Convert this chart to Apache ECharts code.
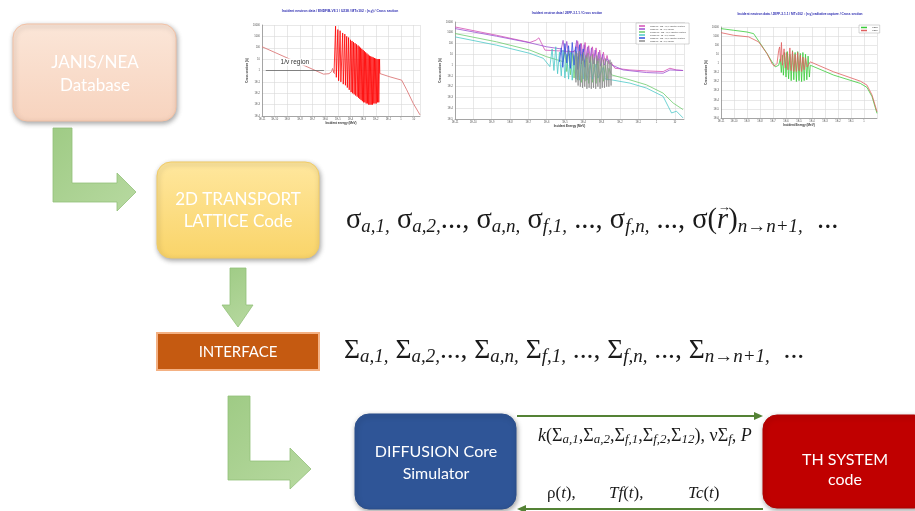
<!DOCTYPE html>
<html><head><meta charset="utf-8">
<script src="https://cdn.jsdelivr.net/npm/echarts@6/dist/echarts.min.js"></script>
<style>html,body{margin:0;padding:0;background:#fff}#c{width:915px;height:511px}</style>
</head><body><div id="c"></div>
<script>
// ---- Thumbnail 1: ENDF/B-VII.1 U238 (n,g) : x = log10(E/MeV), y = log10(sigma/b)
const t1Smooth1 = [[-11,2.09],[-6.13,-0.32],[-5.7,-0.28],[-5.5,-0.1],[-5.42,0.18],[-5.32,-0.2],[-5.2,-0.3]];
const t1Reson = [[-5.3,-0.2],[-5.18,3.9],[-5.12,-0.6],[-5.0,3.6],[-4.94,-0.9],[-4.82,3.5],[-4.76,-1.0],[-4.62,3.3],[-4.57,-1.2],[-4.45,3.2],[-4.4,-1.3],[-4.3,3.0],[-4.25,-1.5],[-4.15,2.9],[-4.1,-1.7],[-4.0,2.7],[-3.95,-1.9],[-3.88,2.6],[-3.83,-2.0],[-3.76,2.5],[-3.71,-2.1],[-3.64,2.4],[-3.59,-2.2],[-3.52,2.3],[-3.47,-2.3],[-3.4,2.2],[-3.36,-2.4],[-3.3,2.1],[-3.26,-2.5],[-3.2,2.0],[-3.16,-2.6],[-3.1,1.9],[-3.06,-2.7],[-3.0,1.8],[-2.96,-2.8],[-2.9,1.7],[-2.86,-2.8],[-2.8,1.6],[-2.76,-2.9],[-2.7,1.5],[-2.66,-2.9],[-2.6,1.4],[-2.56,-3.0],[-2.5,1.3],[-2.46,-3.0],[-2.4,1.25],[-2.36,-3.0],[-2.3,1.2],[-2.26,-3.0],[-2.2,1.15],[-2.16,-2.9],[-2.1,1.1],[-2.06,-2.9],[-2.0,1.05],[-1.96,-2.9],[-1.9,1.0],[-1.86,-2.8],[-1.8,1.0],[-1.76,-2.8],[-1.7,1.0],[-1.68,-0.3]];
const t1Smooth2 = [[-1.7,-0.26],[-0.87,-0.56],[0.05,-0.85],[0.45,-1.7],[0.97,-2.9],[1.5,-3.9]];
const t1Title = 'Incident neutron data / ENDF/B-VII.1 / U238 / MT=102 : (n,γ) / Cross section';

// ---- Thumbnail 2: JEFF-3.1.1 cross sections
const t2Names = ['U235 MT=102 : (n,γ) radiative capture','U235 MT=18 : (n,f) fission','Pu239 MT=102 : (n,γ) radiative capture','Pu239 MT=18 : (n,f) fission','U238 MT=102 : (n,γ) radiative capture','U238 MT=18 : (n,f) fission'];
const t2Magenta = [[-11,3.54],[-8.73,2.77],[-6.91,2.10],[-6.58,2.31],[-6.42,2.53],[-6.27,2.0],[-6.09,1.39],[-5.45,1.33],[-4.45,1.24],[-4.3,2.2],[-4.2,0.8],[-4.1,2.0],[-4.0,0.5],[-3.9,2.1],[-3.8,0.6],[-3.7,1.8],[-3.6,0.3],[-3.5,1.7],[-3.4,0.4],[-3.3,1.6],[-3.2,0.2],[-3.1,1.4],[-3.0,0.1],[-2.9,1.2],[-2.8,0.2],[-2.7,0.9],[-2.6,0.1],[-2.45,0.17],[-2.27,-0.29],[-1.45,-0.45],[-0.55,-0.54],[0.36,-0.6],[0.73,-0.29],[1.09,-0.45],[1.45,-0.5]];
const t2Purple = [[-11,3.39],[-8.73,2.68],[-6.91,2.07],[-6,1.7],[-5.2,1.5],[-5.1,2.3],[-5.0,1.0],[-4.9,2.2],[-4.8,0.9],[-4.45,1.39],[-4.35,2.3],[-4.25,0.6],[-4.15,2.0],[-4.05,0.4],[-3.95,1.9],[-3.85,0.3],[-3.75,1.7],[-3.65,0.2],[-3.55,1.6],[-3.45,0.1],[-3.35,1.4],[-3.25,0.0],[-3.15,1.2],[-3.05,-0.1],[-2.95,1.0],[-2.85,0.0],[-2.7,0.6],[-2.45,0.01],[-1.82,-0.45],[-0.55,-0.69],[0.36,-0.75],[0.73,-0.45],[1.45,-0.5]];
const t2Green = [[-11,2.93],[-8.73,2.16],[-6.91,1.39],[-6,0.78],[-5.09,0.32],[-5.0,1.2],[-4.9,-0.6],[-4.8,1.4],[-4.7,-0.9],[-4.6,1.1],[-4.5,-1.2],[-4.4,1.3],[-4.3,-1.4],[-4.2,0.9],[-4.1,-1.6],[-4.0,1.0],[-3.9,-1.5],[-3.8,0.7],[-3.7,-1.7],[-3.6,0.8],[-3.5,-1.6],[-3.4,0.5],[-3.3,-1.7],[-3.2,0.4],[-3.1,-1.6],[-3.0,0.2],[-2.9,-1.5],[-2.8,0.0],[-2.7,-1.4],[-2.6,-0.3],[-2.45,-0.91],[-1.45,-1.37],[-0.55,-1.83],[0.36,-2.6],[0.91,-3.52],[1.45,-4.13]];
const t2Cyan = [[-11,2.62],[-8.73,1.85],[-6.91,1.09],[-6.18,0.63],[-5.82,-0.14],[-5.7,1.5],[-5.6,-0.5],[-5.5,1.7],[-5.4,-0.8],[-5.3,1.2],[-5.2,-1.0],[-5.1,1.4],[-5.0,-1.2],[-4.9,1.0],[-4.8,-1.3],[-4.7,1.2],[-4.6,-1.4],[-4.5,0.9],[-4.4,-1.3],[-4.3,0.8],[-4.2,-1.4],[-4.1,0.6],[-4.0,-1.3],[-3.9,0.5],[-3.8,-1.4],[-3.6,0.3],[-3.5,-1.3],[-3.3,0.1],[-3.2,-1.2],[-2.9,-0.2],[-2.8,-1.3],[-2.45,-1.37],[-1.45,-1.67],[-0.55,-2.13],[0.36,-2.9],[0.82,-4.44],[1.09,-4.28],[1.45,-4.9]];
const t2Blue = [[-5.3,0.3],[-5.2,1.6],[-5.12,-0.2],[-5.0,2.0],[-4.9,0.2],[-4.8,1.8],[-4.7,-0.3],[-4.6,2.1],[-4.5,0.0],[-4.4,1.7],[-4.3,-0.4],[-4.2,1.9],[-4.1,0.1],[-4.0,1.5],[-3.9,-0.2]];
const t2Gray = [[-4.45,1.2],[-4.4,-1.6],[-4.34,1.1],[-4.28,-1.9],[-4.22,1.3],[-4.16,-2.0],[-4.1,1.0],[-4.04,-2.1],[-3.98,1.2],[-3.92,-2.0],[-3.86,0.9],[-3.8,-2.2],[-3.74,1.1],[-3.68,-2.1],[-3.62,0.8],[-3.56,-2.2],[-3.5,1.0],[-3.44,-2.1],[-3.38,0.7],[-3.32,-2.2],[-3.26,0.9],[-3.2,-2.0],[-3.14,0.6],[-3.08,-2.2],[-3.02,0.7],[-2.96,-2.1],[-2.9,0.5],[-2.84,-2.1],[-2.78,0.6],[-2.72,-2.0],[-2.66,0.4],[-2.6,-2.0],[-2.54,0.5],[-2.48,-1.9],[-2.45,0.3]];
const t2Title = 'Incident neutron data / JEFF-3.1.1 / Cross section';

// ---- Thumbnail 3: JEFF-3.1.1 radiative capture
const t3Names = ['U235','U238'];
const t3Green = [[-11,3.82],[-10.03,3.64],[-9,3.45],[-8.49,3.27],[-7.97,2.18],[-7.46,1.08],[-7.08,0.17],[-6.82,-0.38],[-6.56,-0.2],[-6.44,0.5],[-6.36,-1.0],[-6.28,0.9],[-6.2,-1.3],[-6.1,1.2],[-6.0,-1.5],[-5.9,1.3],[-5.8,-1.7],[-5.7,1.0],[-5.6,-1.9],[-5.5,1.4],[-5.4,-1.8],[-5.3,1.2],[-5.2,-2.0],[-5.1,1.3],[-5.0,-1.9],[-4.9,1.1],[-4.8,-2.0],[-4.7,1.2],[-4.6,-1.9],[-4.5,1.0],[-4.4,-1.8],[-4.3,0.8],[-4.2,-1.5],[-4.13,-0.2],[-2.33,-1.29],[-0.28,-2.2],[0.23,-2.64],[0.62,-3.66],[1,-5.49]];
const t3Red = [[-11,3.38],[-10.03,3.09],[-8.87,2.91],[-8.1,2.36],[-7.46,1.08],[-7.08,-0.01],[-6.9,-0.31],[-6.69,-0.01],[-6.56,1.45],[-6.49,1.81],[-6.42,0.2],[-6.35,2.3],[-6.28,-0.2],[-6.15,1.6],[-6.05,-0.5],[-5.95,1.2],[-5.85,-0.7],[-5.7,1.7],[-5.6,-0.8],[-5.5,1.3],[-5.4,-0.9],[-5.3,1.0],[-5.2,-0.9],[-5.1,1.2],[-5.0,-0.8],[-4.9,0.9],[-4.8,-0.9],[-4.7,0.7],[-4.6,-0.7],[-4.5,0.6],[-4.38,-0.4],[-4.13,0.17],[-2.33,-0.93],[-0.28,-1.95],[0.23,-2.39],[0.62,-3.48],[1,-5.31]];
const t3Title = 'Incident neutron data / JEFF-3.1.1 / MT=102 : (n,γ) radiative capture / Cross section';

// ---- Flow chart labels
const boxLabels = {
  janis: ['JANIS/NEA', 'Database'],
  transport: ['2D TRANSPORT', 'LATTICE Code'],
  iface: ['INTERFACE'],
  diffusion: ['DIFFUSION Core', 'Simulator'],
  th: ['TH SYSTEM', 'code']
};
// math expressions as [style, text] tokens (m = upright, s = italic subscript, i = italic)
const sigmaTokens = [['m','σ'],['s','a,1,'],['m',' σ'],['s','a,2,'],['m','..., σ'],['s','a,n,'],['m',' σ'],['s','f,1,'],['m',' ..., σ'],['s','f,n,'],['m',' ..., σ('],['i','r'],['m',')'],['s','n→n+1,'],['m','  ...']];
const bigSigmaTokens = [['m','Σ'],['s','a,1,'],['m',' Σ'],['s','a,2,'],['m','..., Σ'],['s','a,n,'],['m',' Σ'],['s','f,1,'],['m',' ..., Σ'],['s','f,n,'],['m',' ..., Σ'],['s','n→n+1,'],['m','  ...']];
const kTokens = [['i','k'],['m','(Σ'],['s','a,1'],['m',',Σ'],['s','a,2'],['m',',Σ'],['s','f,1'],['m',',Σ'],['s','f,2'],['m',',Σ'],['s','12'],['m','), νΣ'],['s','f'],['m',', '],['i','P']];
const feedbackTokens = [
  [['m','ρ('],['i','t'],['m','),']],
  [['i','Tf'],['m','('],['i','t'],['m','),']],
  [['i','Tc'],['m','('],['i','t'],['m',')']]
];

const chart = echarts.init(document.getElementById('c'), null, {renderer: 'canvas'});

const sans = 'Lato, "Open Sans", sans-serif';
const serifFam = 'Liberation Serif';

function expLabel(v) {
  if (v >= 0) return String(Math.round(Math.pow(10, v)));
  return '1E' + v;
}
function xAx(gi, min, max, name) {
  return {type: 'value', gridIndex: gi, min: min, max: max, interval: 1,
    name: name, nameLocation: 'middle', nameGap: 6, nameTextStyle: {fontSize: 3, color: '#333', fontWeight: 'bold'},
    axisLine: {show: true, onZero: false, lineStyle: {color: '#777', width: 0.6}},
    axisTick: {show: false},
    axisLabel: {fontSize: 2.6, color: '#555', margin: 2, formatter: expLabel, showMaxLabel: false},
    splitLine: {show: true, lineStyle: {color: '#d8d8d8', width: 0.6}}};
}
function yAx(gi, min, max, name) {
  return {type: 'value', gridIndex: gi, min: min, max: max, interval: 1,
    name: name, nameLocation: 'middle', nameGap: 9, nameRotate: 90, nameTextStyle: {fontSize: 3, color: '#333', fontWeight: 'bold'},
    axisLine: {show: true, onZero: false, lineStyle: {color: '#777', width: 0.6}},
    axisTick: {show: false},
    axisLabel: {fontSize: 2.6, color: '#555', margin: 2, formatter: expLabel},
    splitLine: {show: true, lineStyle: {color: '#d8d8d8', width: 0.6}}};
}
function line(name, gi, data, color, w) {
  return {name: name, type: 'line', xAxisIndex: gi, yAxisIndex: gi, data: data, showSymbol: false,
    symbol: 'none', lineStyle: {color: color, width: w || 0.8}, itemStyle: {color: color}, silent: true, z: 3};
}

// graphic helpers
function gtext(txt, x, y, size, fam, color, weight) {
  return {type: 'text', z: 10, style: {text: txt, x: x, y: y, fill: color || '#fff',
    fontSize: size, fontFamily: fam || sans, fontWeight: weight || 'normal', textAlign: 'center', textVerticalAlign: 'middle'}};
}
function box(x, y, w, h, r, fill, stroke, sw, shadow) {
  return {type: 'rect', z: 5, shape: {x: x, y: y, width: w, height: h, r: r},
    style: {fill: fill, stroke: stroke, lineWidth: sw,
      shadowBlur: shadow ? 5 : 0, shadowColor: 'rgba(0,0,0,0.35)', shadowOffsetX: shadow ? 1 : 0, shadowOffsetY: shadow ? 2 : 0}};
}
function grad(c1, c2) {
  return new echarts.graphic.LinearGradient(0, 0, 0, 1, [{offset: 0, color: c1}, {offset: 1, color: c2}]);
}
const arrowGreen = new echarts.graphic.LinearGradient(0, 0, 1, 1, [{offset: 0, color: '#9FCB85'}, {offset: 1, color: '#B7D9A0'}]);

function richMath(mSize, sSize, pad) {
  return {
    m: {fill: '#1a1a1a', fontSize: mSize, fontFamily: serifFam},
    s: {fill: '#1a1a1a', fontSize: sSize, fontFamily: serifFam, fontStyle: 'italic', padding: [pad, 0, 0, 0]},
    i: {fill: '#1a1a1a', fontSize: mSize, fontFamily: serifFam, fontStyle: 'italic'}
  };
}
function richString(tokens) {
  return tokens.map(function (t) { return '{' + t[0] + '|' + t[1] + '}'; }).join('');
}
const measureCtx = document.createElement('canvas').getContext('2d');
function tokenWidth(tok, rich) {
  const st = rich[tok[0]];
  measureCtx.font = (st.fontStyle || 'normal') + ' normal ' + st.fontSize + 'px ' + st.fontFamily;
  return measureCtx.measureText(tok[1]).width;
}
function mathText(tokens, x, y, mSize, sSize, pad) {
  const rich = richMath(mSize, sSize, pad);
  return {type: 'text', z: 10, style: {text: richString(tokens), x: x, y: y, textAlign: 'left', textVerticalAlign: 'middle', rich: rich}};
}

// sigma line with vector arrow over r
const sigX = 346, sigY = 221, sigM = 28.5, sigS = 19, sigPad = 12;
const sigRich = richMath(sigM, sigS, sigPad);
let rX = sigX, rIdx = 0;
for (let k = 0; k < sigmaTokens.length; k++) {
  if (sigmaTokens[k][0] === 'i' && sigmaTokens[k][1] === 'r') { rIdx = k; break; }
  rX += tokenWidth(sigmaTokens[k], sigRich);
}
const rW = tokenWidth(sigmaTokens[rIdx], sigRich);

const graphics = [
  // JANIS box
  box(13, 24, 163, 97, 14, grad('#FBE6D8', '#F7D3BE'), '#F3C2A6', 1, true),
  gtext(boxLabels.janis[0], 95, 63, 17),
  gtext(boxLabels.janis[1], 95, 86, 17),
  // L arrow 1
  {type: 'polygon', z: 4, shape: {points: [[53,128],[72,128],[72,183],[117,183],[117,173],[136,192],[117,211],[117,202],[53,202]]},
    style: {fill: arrowGreen, stroke: '#93C07A', lineWidth: 0.8}},
  // Transport box
  box(157, 162, 162, 96, 14, grad('#FFE79E', '#F9D469'), '#F2CC66', 1, true),
  gtext(boxLabels.transport[0], 238, 200, 17),
  gtext(boxLabels.transport[1], 238, 222, 17),
  // down arrow
  {type: 'polygon', z: 4, shape: {points: [[230,268],[246,268],[246,305],[253,305],[238,327],[222,305],[230,305]]},
    style: {fill: arrowGreen, stroke: '#93C07A', lineWidth: 0.8}},
  // Interface box
  box(157, 333, 162, 37, 0, '#C55A11', '#F4B183', 2, false),
  gtext(boxLabels.iface[0], 238, 352, 15),
  // L arrow 2
  {type: 'polygon', z: 4, shape: {points: [[228,396],[250,396],[250,461],[290,461],[290,448],[311,469],[290,489],[290,480],[228,480]]},
    style: {fill: arrowGreen, stroke: '#93C07A', lineWidth: 0.8}},
  // Diffusion box
  box(355, 414, 161, 95, 14, '#2F5597', '#2B4F8C', 1, true),
  gtext(boxLabels.diffusion[0], 436, 452, 16),
  gtext(boxLabels.diffusion[1], 436, 474, 16),
  // TH box
  box(763, 415, 165, 93, 14, '#C00000', '#B00000', 1, true),
  gtext(boxLabels.th[0], 845, 460, 16),
  gtext(boxLabels.th[1], 845, 480, 16),
  // top arrow (to TH)
  {type: 'line', z: 6, shape: {x1: 517, y1: 416, x2: 756, y2: 416}, style: {stroke: '#548235', lineWidth: 2}},
  {type: 'polygon', z: 6, shape: {points: [[754,412],[763,416],[754,420]]}, style: {fill: '#548235'}},
  // bottom arrow (to diffusion)
  {type: 'line', z: 6, shape: {x1: 524, y1: 509, x2: 763, y2: 509}, style: {stroke: '#548235', lineWidth: 2}},
  {type: 'polygon', z: 6, shape: {points: [[526,505],[517,509],[526,513]]}, style: {fill: '#548235'}},
  // math text lines
  mathText(sigmaTokens, sigX, sigY, sigM, sigS, sigPad),
  gtext('→', rX + rW / 2 + 1.5, sigY - 13, 13, serifFam, '#1a1a1a'),
  mathText(bigSigmaTokens, 344, 351, 27.5, 19, 12),
  mathText(kTokens, 538, 436, 18, 13, 7),
  mathText(feedbackTokens[0], 547, 494, 17, 12, 0),
  mathText(feedbackTokens[1], 609, 494, 17, 12, 0),
  mathText(feedbackTokens[2], 688, 494, 17, 12, 0),
  // thumbnail titles
  gtext(t1Title, 340, 11, 3.3, 'Liberation Sans', '#2a2ab0', 'bold'),
  gtext(t2Title, 567, 13, 3, 'Liberation Sans', '#2a2ab0', 'bold'),
  gtext(t3Title, 800, 14, 3.2, 'Liberation Sans', '#2a2ab0', 'bold')
];

const option = {
  animation: false,
  backgroundColor: '#fff',
  grid: [
    {left: 262, top: 25, width: 158, height: 91, containLabel: false},
    {left: 455, top: 22, width: 229, height: 97, containLabel: false},
    {left: 721, top: 27, width: 156, height: 91, containLabel: false}
  ],
  xAxis: [
    xAx(0, -11, 1.5, 'Incident energy (MeV)'),
    xAx(1, -11, 1.5, 'Incident Energy (MeV)'),
    xAx(2, -11, 1, 'Incident Energy (MeV)')
  ],
  yAxis: [
    yAx(0, -4, 4, 'Cross section (b)'),
    yAx(1, -5, 4, 'Cross section (b)'),
    yAx(2, -6, 4, 'Cross section (b)')
  ],
  legend: [
    {data: t2Names, left: 636, top: 23, orient: 'vertical', itemWidth: 6, itemHeight: 1.5, itemGap: 1, icon: 'rect',
      textStyle: {fontSize: 2.1, color: '#444'}, borderColor: '#aaa', borderWidth: 0.5, padding: [2, 3], backgroundColor: '#fff', selectedMode: false},
    {data: t3Names, left: 859, top: 25, orient: 'vertical', itemWidth: 6, itemHeight: 1.5, itemGap: 1, icon: 'rect',
      textStyle: {fontSize: 2.4, color: '#444'}, borderColor: '#aaa', borderWidth: 0.5, padding: [1.5, 2], backgroundColor: '#fff', selectedMode: false}
  ],
  series: [
    Object.assign(line('ENDF U238 smooth', 0, t1Smooth1, '#DD7B7B', 0.9), {
      markLine: {silent: true, symbol: ['none', 'none'], animation: false,
        data: [[{coord: [-10.7, 0.0]}, {coord: [-6.1, 0.0]}]],
        lineStyle: {color: '#555', width: 0.7, type: 'solid'},
        label: {show: true, position: 'middle', formatter: '1/v region', fontSize: 6.5, color: '#333', backgroundColor: '#fff', padding: [0, 2], fontFamily: 'Liberation Sans'}}
    }),
    line('ENDF U238 resonances', 0, t1Reson, '#FF0000', 0.8),
    line('ENDF U238 fast', 0, t1Smooth2, '#DD7B7B', 0.9),
    line(t2Names[0], 1, t2Magenta, '#D44FB4', 0.8),
    line(t2Names[1], 1, t2Purple, '#9B4FD0', 0.8),
    line(t2Names[2], 1, t2Green, '#6CCB6C', 0.8),
    line(t2Names[3], 1, t2Cyan, '#4CC8C8', 0.8),
    line(t2Names[4], 1, t2Blue, '#3350DD', 0.8),
    line(t2Names[5], 1, t2Gray, '#8C8C8C', 0.8),
    line(t3Names[0], 2, t3Green, '#3ACB3A', 0.8),
    line(t3Names[1], 2, t3Red, '#E06060', 0.8)
  ],
  graphic: {elements: graphics}
};
chart.setOption(option);
</script>
</body></html>
